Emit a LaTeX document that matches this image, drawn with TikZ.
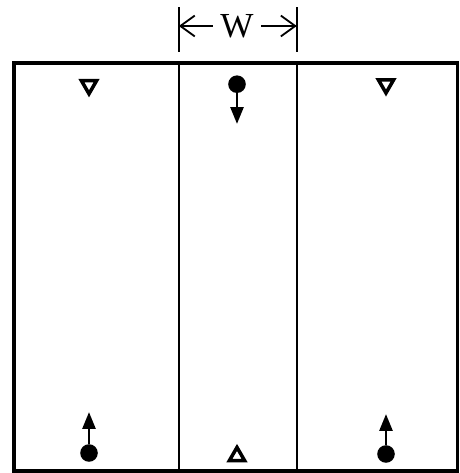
\documentclass[tikz,border=0pt]{standalone}
\usepackage{fontspec}
\setmainfont{Liberation Serif}
\usepackage{tikz}
\usetikzlibrary{shapes.geometric,arrows.meta,positioning}

\tikzset{
    spin/.style={circle, fill=black, inner sep=0pt, minimum size=0.44cm},
    hole/.style={regular polygon, regular polygon sides=3, draw, line width=2.5pt, inner sep=0pt, minimum size=0.44cm},
    drift/.style={line width=2pt, -{Triangle[length=0.42cm,width=0.32cm]}},
    span/.style={line width=1.3pt, -{Straight Barb[length=0.36cm,width=0.52cm,line width=1.3pt]}}
}

\begin{document}
\begin{tikzpicture}
    \useasboundingbox (0,0) rectangle (11.475,11.825);

    % Frame and walls
    \draw [line width=2.4pt] (0.35,0.05) rectangle (11.43,10.25);
    \draw [line width=1.3pt] (4.47,0.05) -- (4.47,10.25);
    \draw [line width=1.3pt] (7.42,0.05) -- (7.42,10.25);

    % Width marker
    \draw [line width=1.4pt] (4.47,10.53) -- (4.47,11.65);
    \draw [line width=1.4pt] (7.42,10.53) -- (7.42,11.65);
    \node [inner sep=0.18cm, font=\fontsize{25}{28}\selectfont] (width) at (5.925,11.175) {W};
    \coordinate (widthl) at (4.47,11.175);
    \coordinate (widthr) at (7.42,11.175);
    \draw [span] (width) -- (widthl);
    \draw [span] (width) -- (widthr);

    % Left
    \node [hole, shape border rotate=180] (holea) at (2.225,9.7) {};
    \node [spin] (spina) at (2.225,0.5) {};
    \coordinate (tipa) at (2.225,1.525);
    \draw [drift] (spina) -- (tipa);

    % Middle
    \node [spin] (spinb) at (5.925,9.72) {};
    \coordinate (tipb) at (5.925,8.725);
    \draw [drift] (spinb) -- (tipb);
    \node [hole] (holeb) at (5.925,0.42) {};

    % Right
    \node [hole, shape border rotate=180] (holec) at (9.65,9.72) {};
    \node [spin] (spinc) at (9.65,0.475) {};
    \coordinate (tipc) at (9.65,1.475);
    \draw [drift] (spinc) -- (tipc);
\end{tikzpicture}
\end{document}
